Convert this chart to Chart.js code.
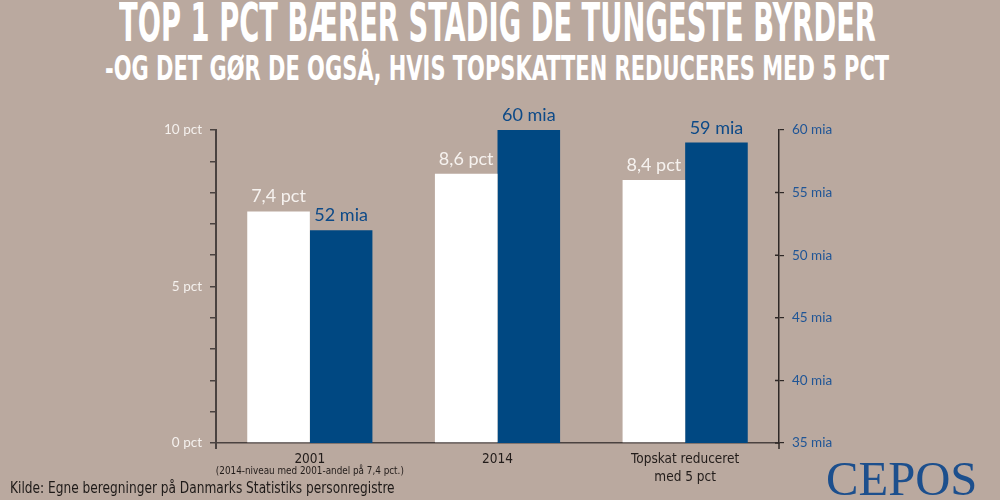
<!DOCTYPE html>
<html>
<head>
<meta charset="utf-8">
<script src="https://cdn.jsdelivr.net/npm/chart.js@4.4.1/dist/chart.umd.min.js"></script>
<style>
  body { margin: 0; background: #baa99f; overflow: hidden; }
  #wrap { position: relative; width: 1000px; height: 500px; }
  #wrap canvas { position: absolute; left: 0; top: 0; }
  .txt { position: absolute; white-space: nowrap; line-height: 1; transform-origin: left top; }
  .head { font-family: "DejaVu Sans Condensed", sans-serif; font-weight: bold; color: #fff; }
  #t1 { font-size: 54px; }
  #t2 { font-size: 33px; }
  #src { font-family: "DejaVu Sans Condensed", sans-serif; font-size: 15px; color: #1e1a18; }
  #logo { font-family: "Liberation Serif", serif; font-size: 48px; color: #1c4f8d; }
</style>
</head>
<body>
<div id="wrap">
  <div class="txt head" id="t1">TOP 1 PCT BÆRER STADIG DE TUNGESTE BYRDER</div>
  <div class="txt head" id="t2">-OG DET GØR DE OGSÅ, HVIS TOPSKATTEN REDUCERES MED 5 PCT</div>
  <canvas id="myChart" width="1000" height="500"></canvas>
  <div class="txt" id="src">Kilde: Egne beregninger på Danmarks Statistiks personregistre</div>
  <div class="txt" id="logo">CEPOS</div>
</div>
<script>
// data
var categories = [['2001'], ['2014'], ['Topskat reduceret', 'med 5 pct']];
var categoryNotes = ['(2014-niveau med 2001-andel på 7,4 pct.)', '', ''];
var shareValues = [7.4, 8.6, 8.4];     // pct, left axis
var amountValues = [52, 60, 59];      // mia, right axis

var whiteCol = '#ffffff';
var blueCol = '#004882';
var axisCol = '#4a4240';

// squeeze html text to a given box
function fit(id, x, y, w) {
  var el = document.getElementById(id);
  var s = w / el.offsetWidth;
  el.style.left = x + 'px';
  el.style.top = y + 'px';
  el.style.transform = 'scaleX(' + s + ')';
}
fit('t1', 119, -4, 757);
fit('t2', 105, 52, 784);
fit('src', 10, 481, 385);
fit('logo', 826, 455, 151);

function fmtShare(v) { return v.toFixed(1).replace('.', ',') + ' pct'; }
function fmtAmount(v) { return v + ' mia'; }

var valueLabels = {
  id: 'valueLabels',
  afterDatasetsDraw: function(chart) {
    var ctx = chart.ctx;
    chart.data.datasets.forEach(function(ds, i) {
      var meta = chart.getDatasetMeta(i);
      meta.data.forEach(function(bar, j) {
        ctx.save();
        ctx.font = '18px Lato';
        ctx.fillStyle = i == 0 ? '#f6f2ef' : '#0d4a88';
        ctx.textAlign = 'center';
        ctx.textBaseline = 'alphabetic';
        var txt = i == 0 ? fmtShare(ds.data[j]) : fmtAmount(ds.data[j]);
        ctx.fillText(txt, bar.x, bar.y - 9);
        ctx.restore();
      });
    });
  }
};

// small note under a category + axis stubs below the baseline
var notes = {
  id: 'notes',
  afterDraw: function(chart) {
    var ctx = chart.ctx;
    var xs = chart.scales.x;
    var area = chart.chartArea;
    ctx.save();
    ctx.font = '10px "DejaVu Sans Condensed", sans-serif';
    ctx.fillStyle = '#221c1a';
    ctx.textAlign = 'center';
    ctx.textBaseline = 'middle';
    categoryNotes.forEach(function(n, i) {
      if (n) ctx.fillText(n, xs.getPixelForValue(i), 471, 188);
    });
    ctx.strokeStyle = axisCol;
    ctx.lineWidth = 2;
    ctx.beginPath();
    ctx.moveTo(area.left, area.bottom);
    ctx.lineTo(area.left, area.bottom + 6);
    ctx.stroke();
    ctx.strokeStyle = '#2e2826';
    ctx.lineWidth = 1.5;
    ctx.beginPath();
    ctx.moveTo(area.right, area.bottom);
    ctx.lineTo(area.right, area.bottom + 6);
    chart.scales.y1.ticks.forEach(function(t) {
      var py = chart.scales.y1.getPixelForValue(t.value);
      if (t.value < 60) {
        ctx.moveTo(area.right - 4, py);
        ctx.lineTo(area.right, py);
      }
    });
    ctx.stroke();
    ctx.restore();
  }
};

var ctx = document.getElementById('myChart');
var myChart = new Chart(ctx, {
  type: 'bar',
  data: {
    labels: categories,
    datasets: [
      { label: 'Andel', data: shareValues, backgroundColor: whiteCol, yAxisID: 'y',
        categoryPercentage: 0.667, barPercentage: 1 },
      { label: 'Mia', data: amountValues, backgroundColor: blueCol, yAxisID: 'y1',
        categoryPercentage: 0.667, barPercentage: 1 }
    ]
  },
  options: {
    responsive: false,
    animation: false,
    layout: { padding: { top: 130, left: 0, right: 0, bottom: 0 } },
    plugins: { legend: { display: false }, tooltip: { enabled: false }, title: { display: false } },
    scales: {
      x: {
        grid: { display: false, drawTicks: false },
        border: { display: true, color: axisCol, width: 1.5 },
        ticks: {
          color: '#221c1a', padding: 8, maxRotation: 0, autoSkip: false,
          font: { family: '"DejaVu Sans Condensed", sans-serif', size: 13.5, lineHeight: 1.3 }
        },
        afterFit: function(s) { s.height = 57; }
      },
      y: {
        position: 'left', min: 0, max: 10,
        grid: { display: true, drawOnChartArea: false, drawTicks: true, tickLength: 6, color: axisCol, lineWidth: 1.5 },
        border: { display: true, color: axisCol, width: 2 },
        ticks: {
          stepSize: 1, autoSkip: false, padding: 8, color: '#f5f1ee',
          font: { family: 'Lato', size: 13.5 },
          callback: function(v) { return v % 5 == 0 ? v + ' pct' : ''; }
        },
        afterFit: function(s) { s.width = 216; }
      },
      y1: {
        position: 'right', min: 35, max: 60,
        grid: { display: true, drawOnChartArea: false, drawTicks: true, tickLength: 5, color: '#2e2826', lineWidth: 1.2 },
        border: { display: true, color: '#2e2826', width: 1.5 },
        ticks: {
          stepSize: 5, autoSkip: false, padding: 8, color: '#1f5596',
          font: { family: 'Lato', size: 13.5 },
          callback: function(v) { return v + ' mia'; }
        },
        afterFit: function(s) { s.width = 221; }
      }
    }
  },
  plugins: [valueLabels, notes]
});
</script>
</body>
</html>
